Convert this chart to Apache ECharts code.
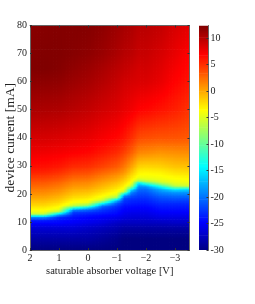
<!DOCTYPE html>
<html><head><meta charset="utf-8">
<style>html,body{margin:0;padding:0;background:#fff}#c{width:255px;height:304px}</style>
<script src="https://cdn.jsdelivr.net/npm/echarts@6/dist/echarts.min.js"></script>
</head><body><div id="c"></div>
<script>
const xTicks=[2,1,0,-1,-2,-3];
const barTicks=[-30,-25,-20,-15,-10,-5,0,5,10];
const currents=[0,4,8,10,11,12,13,14,15,16,17,18,19,20,21,22,23,24,25,26,27,28,30,35,40,50,60,65,70,80];
const voltages=[2,1.5,1,0.5,0,-0.5,-1,-1.25,-1.5,-1.75,-2,-2.5,-3,-3.5];
const vP20=[-30,-28.5,-26.5,-24.5,-23,-18,-6,-4,-3,-2,-1.2,-0.4,0.3,1,1.6,2.2,2.8,3.4,4,4.6,5.2,5.8,6.6,7.8,8.8,10.6,11.8,12.3,12.2,12];
const vP15=[-30,-28.5,-26.5,-24.5,-23,-18,-6,-4,-3,-2,-1.2,-0.5,0.2,0.9,1.5,2.1,2.7,3.3,3.9,4.5,5.1,5.7,6.5,7.7,8.8,10.5,11.8,12.4,12.3,12.1];
const vP10=[-30,-28.5,-26.5,-24.5,-24,-22.5,-16,-6,-4,-3,-2,-1.2,-0.5,0.2,0.9,1.5,2.1,2.7,3.4,4,4.6,5.2,6.2,7.5,8.6,10.4,11.7,12.2,12.3,12.2];
const vP05=[-30,-28.5,-26.5,-25,-24.5,-24,-23,-21.5,-15,-6,-4,-3,-2,-1.2,-0.5,0.2,0.9,1.5,2.2,2.9,3.6,4.2,5.4,7.2,8.3,10,11.2,11.7,12.1,12.2];
const v00=[-30,-28.5,-27,-25.5,-25,-24.5,-23.5,-22,-18,-9,-4.5,-3.4,-2.4,-1.6,-0.8,0,0.7,1.3,2,2.7,3.4,4,5.2,6.9,8,9.6,10.8,11.3,11.8,12.2];
const vN05=[-30,-29,-27.5,-26,-25.5,-25,-24,-23,-22,-19.5,-12,-5.5,-4,-3,-2,-1.2,-0.5,0.2,0.9,1.6,2.3,3,4.4,6.2,7.4,9,10.2,10.7,11.3,11.8];
const vN10=[-30,-29.5,-28,-27,-26,-25.5,-24.5,-24,-23.5,-22.5,-20.5,-16,-7,-4.5,-3.5,-2.6,-1.8,-1,-0.2,0.5,1.2,2,3.4,5.4,6.8,8.5,9.5,10,10.6,11.2];
const vN125=[-30,-30,-28.5,-27.2,-26.6,-26,-25.5,-25,-24.5,-24,-23,-22.5,-21,-16,-6,-4,-3,-2.2,-1.4,-0.6,0.2,1,2.2,4.5,6.2,8,9,9.6,10.1,10.8];
const vN15=[-30,-30,-28.5,-27.2,-26.8,-26.2,-25.8,-25.2,-24.7,-24.2,-23.5,-23,-22,-20.5,-18.5,-13,-6.5,-4,-3.2,-2.5,-1.8,-1,0.4,3.2,5.2,7.6,8.8,9.3,9.9,10.5];
const vN175=[-30,-30,-28.5,-27.2,-26.8,-26.3,-25.8,-25.3,-24.8,-24.3,-23.7,-23.2,-22.5,-21.8,-21,-20,-18.5,-15,-6.5,-4.2,-3.5,-3,-1.6,1.6,4,7,8.6,8.9,9.4,10];
const vN20=[-30,-30,-28.5,-27.2,-26.8,-26.3,-25.8,-25.3,-24.8,-24.3,-23.7,-23.2,-22.5,-21.8,-21,-20,-18,-11,-5.5,-4.2,-3.6,-3.1,-1.8,1.4,3.8,6.8,8.6,9,9.4,10];
const vN25=[-30,-30,-28.5,-27.2,-26.5,-25.8,-25.2,-24.6,-24,-23.5,-22.8,-22,-21.2,-20,-18.8,-17,-12.5,-6.5,-4.5,-3.9,-3.4,-2.9,-1.6,1,3.6,6.3,8,8.4,8.8,9.6];
const vN30=[-30,-30,-28.5,-27,-26.5,-25.8,-25.2,-24.6,-24,-23.5,-22.8,-21.8,-20.8,-19.5,-17.8,-13.5,-6.5,-4.6,-3.9,-3.4,-2.8,-2.2,-1,1.2,3.6,5.8,7,7.5,8,8.8];
const vN35=[-30,-30,-28.5,-27,-26.5,-25.8,-25.2,-24.6,-24,-23.5,-22.8,-22,-20.8,-19.5,-18,-14.5,-5.5,-4.4,-3.7,-3.2,-2.6,-2,-0.9,1.3,3.4,5,6.3,6.7,7.1,8.2];
const columns=[vP20,vP15,vP10,vP05,v00,vN05,vN10,vN125,vN15,vN175,vN20,vN25,vN30,vN35];
const vMin=-30, vMax=12.4;

function jet(v){
  const t=Math.max(0,Math.min(1,(v-vMin)/(vMax-vMin)));
  const ch=c=>Math.round(255*Math.max(0,Math.min(1,1.5-Math.abs(4*t-c))));
  return 'rgb('+ch(3)+','+ch(2)+','+ch(1)+')';
}
const cells=[];
for(let c=0;c<voltages.length-1;c++)for(let r=0;r<currents.length-1;r++)cells.push([voltages[c],currents[r],c,r]);

function renderCell(params,api){
  const c=api.value(2),r=api.value(3);
  const p0=api.coord([voltages[c],currents[r]]),p1=api.coord([voltages[c+1],currents[r+1]]);
  const nx=Math.max(1,Math.ceil((p1[0]-p0[0])/1.5)),ny=Math.max(1,Math.ceil((p0[1]-p1[1])/1.5));
  const a=columns[c][r],b=columns[c+1][r],d=columns[c][r+1],e=columns[c+1][r+1];
  const kids=[];
  for(let i=0;i<nx;i++)for(let j=0;j<ny;j++){
    const u=(i+.5)/nx,w=(j+.5)/ny;
    const val=(a*(1-u)+b*u)*(1-w)+(d*(1-u)+e*u)*w;
    const x=p0[0]+(p1[0]-p0[0])*i/nx,y2=p0[1]+(p1[1]-p0[1])*j/ny,y1=p0[1]+(p1[1]-p0[1])*(j+1)/ny;
    kids.push({type:'rect',shape:{x:x,y:y1,width:(p1[0]-p0[0])/nx+0.7,height:y2-y1+0.7},style:{fill:jet(val)},silent:true});
  }
  return {type:'group',children:kids};
}
function renderBar(params,api){
  const v=api.value(1);
  const p0=api.coord([0,v]),p1=api.coord([1,v+0.2]);
  return {type:'rect',shape:{x:p0[0],y:p1[1],width:p1[0]-p0[0],height:p0[1]-p1[1]+0.7},style:{fill:jet(v+0.1)},silent:true};
}
const barSteps=[];
for(let k=0;k<212;k++)barSteps.push([0,vMin+k*0.2]);

const serif='"Liberation Serif","Times New Roman",serif';
const lineC='#666';
const label={fontFamily:serif,fontSize:10,color:'#222'};
const ax={axisLine:{show:true,onZero:false,lineStyle:{color:lineC,width:1}},axisTick:{show:true,inside:true,length:2,lineStyle:{color:'#333',width:1}},splitLine:{show:false},z:5};
const chart=echarts.init(document.getElementById('c'),null,{renderer:'canvas'});
chart.setOption({
  animation:false,
  backgroundColor:'#fff',
  grid:[{left:30,top:25.5,width:159.5,height:224.5,outerBoundsMode:'none'},{left:199,top:25.5,width:9.5,height:224.5,outerBoundsMode:'none'}],
  xAxis:[
    Object.assign({},ax,{type:'value',gridIndex:0,inverse:true,min:-3.5,max:2,position:'bottom',
      axisTick:Object.assign({},ax.axisTick,{customValues:xTicks}),
      axisLabel:Object.assign({},label,{customValues:xTicks,margin:3,formatter:v=>String(v).replace('-','\u2212')}),
      name:'saturable absorber voltage [V]',nameLocation:'middle',nameGap:16,nameMoveOverlap:false,
      nameTextStyle:{fontFamily:serif,fontSize:10.5,color:'#222'}}),
    Object.assign({},ax,{type:'value',gridIndex:0,inverse:true,min:-3.5,max:2,position:'top',
      axisTick:Object.assign({},ax.axisTick,{customValues:xTicks}),axisLabel:{show:false}}),
    {type:'value',gridIndex:1,min:0,max:1,show:false}
  ],
  yAxis:[
    Object.assign({},ax,{type:'value',gridIndex:0,min:0,max:80,interval:10,position:'left',
      axisLabel:Object.assign({},label,{margin:3}),
      name:'device current [mA]',nameLocation:'middle',nameGap:12.5,nameMoveOverlap:false,
      nameTextStyle:{fontFamily:serif,fontSize:13.5,color:'#222'}}),
    Object.assign({},ax,{type:'value',gridIndex:0,min:0,max:80,interval:10,position:'right',axisLabel:{show:false}}),
    Object.assign({},ax,{type:'value',gridIndex:1,min:vMin,max:vMax,position:'right',
      axisTick:Object.assign({},ax.axisTick,{customValues:barTicks}),
      axisLabel:Object.assign({},label,{customValues:barTicks,margin:2})})
  ],
  series:[
    {type:'custom',coordinateSystem:'cartesian2d',xAxisIndex:0,yAxisIndex:0,data:cells,renderItem:renderCell,clip:true,silent:true,progressive:0,encode:{x:0,y:1}},
    {type:'custom',coordinateSystem:'cartesian2d',xAxisIndex:2,yAxisIndex:2,data:barSteps,renderItem:renderBar,clip:true,silent:true,progressive:0,encode:{x:0,y:1}}
  ]
});
</script></body></html>
